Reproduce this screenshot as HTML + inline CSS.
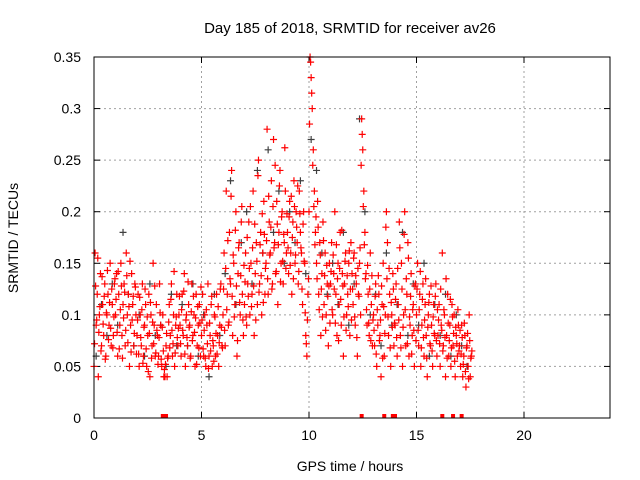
<!DOCTYPE html>
<html><head><meta charset="utf-8"><style>
body{margin:0;background:#fff}
svg{display:block;font-family:"Liberation Sans",sans-serif}
</style></head><body>
<svg id="chart" width="640" height="480">
<text x="350" y="33" font-size="15" text-anchor="middle">Day 185 of 2018, SRMTID for receiver av26</text>
<text x="18" y="238" font-size="14" text-anchor="middle" transform="rotate(-90 18 238)">SRMTID / TECUs</text>
<text x="350" y="471" font-size="14" text-anchor="middle">GPS time / hours</text>
<g id="grid"></g><g id="ticks"></g><g id="marks"></g>
<rect x="94" y="57" width="516" height="361" fill="none" stroke="#000" stroke-width="1"/>
</svg>
<script>
const xTicks=[0,5,10,15,20];
const yTicks=[0,0.05,0.1,0.15,0.2,0.25,0.3,0.35];
const yTickLabels=["0","0.05","0.1","0.15","0.2","0.25","0.3","0.35"];
const hours=[0,1,2,3,4,5,6,7,8,9,10,11,12,13,14,15,16,17];
const redVals=[
[0.05,0.16,0.09,0.12,0.04,0.1,0.14,0.07,0.11,0.08,0.13,0.06,0.1,0.12,0.09,0.15,0.07,0.11,0.08,0.13],
[0.1,0.14,0.06,0.12,0.09,0.15,0.08,0.11,0.13,0.07,0.16,0.1,0.12,0.05,0.09,0.14,0.11,0.07,0.13,0.1],
[0.08,0.12,0.05,0.1,0.07,0.13,0.06,0.09,0.11,0.05,0.08,0.12,0.04,0.1,0.07,0.15,0.09,0.06,0.11,0.08],
[0.06,0.13,0.09,0.05,0.1,0.04,0.04,0.07,0.04,0.06,0.11,0.08,0.13,0.06,0.1,0.05,0.09,0.12,0.07,0.1],
[0.09,0.06,0.12,0.08,0.14,0.05,0.1,0.07,0.11,0.09,0.06,0.13,0.08,0.1,0.05,0.12,0.07,0.09,0.11,0.06],
[0.08,0.12,0.06,0.1,0.05,0.09,0.13,0.06,0.08,0.11,0.05,0.07,0.1,0.06,0.12,0.08,0.05,0.09,0.13,0.07],
[0.1,0.16,0.07,0.22,0.12,0.09,0.18,0.13,0.24,0.08,0.15,0.11,0.2,0.06,0.14,0.17,0.1,0.19,0.12,0.08],
[0.11,0.16,0.09,0.13,0.19,0.1,0.15,0.12,0.22,0.08,0.14,0.17,0.11,0.25,0.13,0.18,0.1,0.16,0.21,0.12],
[0.15,0.28,0.12,0.19,0.16,0.23,0.13,0.27,0.17,0.14,0.21,0.11,0.18,0.24,0.15,0.2,0.13,0.17,0.22,0.16],
[0.18,0.14,0.21,0.16,0.12,0.19,0.23,0.15,0.2,0.17,0.13,0.22,0.18,0.16,0.11,0.2,0.15,0.08,0.06,0.12],
[0.2,0.35,0.33,0.3,0.26,0.22,0.18,0.15,0.21,0.12,0.17,0.08,0.14,0.19,0.11,0.16,0.1,0.13,0.07,0.15],
[0.13,0.17,0.1,0.14,0.2,0.12,0.08,0.15,0.11,0.18,0.09,0.14,0.06,0.13,0.16,0.1,0.12,0.15,0.08,0.17],
[0.14,0.11,0.16,0.09,0.13,0.06,0.12,0.15,0.1,0.29,0.26,0.22,0.18,0.14,0.09,0.12,0.08,0.16,0.11,0.07],
[0.1,0.07,0.13,0.05,0.09,0.12,0.08,0.04,0.11,0.15,0.06,0.1,0.2,0.17,0.08,0.12,0.05,0.1,0.14,0.07],
[0.09,0.13,0.06,0.11,0.19,0.08,0.15,0.05,0.1,0.2,0.07,0.12,0.17,0.06,0.09,0.14,0.08,0.11,0.05,0.13],
[0.1,0.15,0.07,0.12,0.05,0.09,0.13,0.06,0.11,0.08,0.04,0.1,0.12,0.07,0.09,0.05,0.11,0.08,0.13,0.06],
[0.08,0.11,0.05,0.09,0.16,0.07,0.1,0.04,0.08,0.12,0.06,0.09,0.05,0.11,0.07,0.1,0.04,0.08,0.06,0.09],
[0.07,0.05,0.09,0.04,0.06,0.08,0.03,0.07,0.05,0.1,0.04,0.06]
];
const redVals2=[
[0.072,0.128,0.095,0.155,0.083,0.108,0.065,0.137,0.091,0.118,0.057,0.102,0.143,0.076,0.112,0.087,0.125,0.068,0.098,0.135],
[0.115,0.083,0.142,0.067,0.105,0.128,0.058,0.097,0.122,0.085,0.138,0.073,0.108,0.152,0.064,0.095,0.118,0.082,0.127,0.062],
[0.095,0.062,0.117,0.078,0.105,0.053,0.088,0.125,0.067,0.098,0.045,0.082,0.112,0.058,0.093,0.072,0.128,0.063,0.085,0.052],
[0.078,0.102,0.057,0.088,0.065,0.047,0.052,0.082,0.058,0.093,0.068,0.115,0.085,0.072,0.142,0.063,0.098,0.078,0.087,0.118],
[0.072,0.105,0.085,0.123,0.062,0.095,0.078,0.132,0.088,0.058,0.103,0.075,0.118,0.083,0.097,0.052,0.108,0.068,0.092,0.127],
[0.095,0.067,0.085,0.058,0.105,0.072,0.048,0.092,0.065,0.118,0.075,0.055,0.098,0.082,0.062,0.108,0.073,0.125,0.088,0.068],
[0.125,0.085,0.145,0.105,0.172,0.093,0.135,0.215,0.118,0.158,0.098,0.182,0.128,0.075,0.165,0.112,0.138,0.205,0.095,0.148],
[0.132,0.098,0.175,0.118,0.145,0.205,0.108,0.165,0.128,0.188,0.095,0.152,0.235,0.122,0.168,0.138,0.198,0.112,0.178,0.145],
[0.172,0.135,0.215,0.158,0.185,0.125,0.205,0.165,0.245,0.142,0.188,0.168,0.225,0.132,0.195,0.152,0.178,0.262,0.145,0.198],
[0.165,0.195,0.148,0.215,0.175,0.135,0.205,0.158,0.185,0.225,0.142,0.198,0.165,0.125,0.188,0.152,0.102,0.072,0.095,0.135],
[0.285,0.345,0.315,0.245,0.205,0.168,0.195,0.135,0.185,0.105,0.158,0.125,0.098,0.172,0.138,0.085,0.148,0.118,0.128,0.092],
[0.142,0.105,0.158,0.125,0.092,0.168,0.135,0.075,0.145,0.115,0.182,0.128,0.098,0.152,0.085,0.138,0.108,0.162,0.125,0.095],
[0.125,0.155,0.098,0.138,0.078,0.145,0.118,0.165,0.245,0.275,0.205,0.168,0.135,0.105,0.148,0.092,0.125,0.075,0.138,0.095],
[0.085,0.118,0.062,0.105,0.138,0.075,0.095,0.128,0.058,0.108,0.082,0.185,0.135,0.098,0.145,0.068,0.112,0.088,0.125,0.092],
[0.115,0.078,0.145,0.095,0.165,0.068,0.125,0.088,0.178,0.105,0.135,0.072,0.155,0.098,0.118,0.062,0.105,0.085,0.128,0.075],
[0.125,0.085,0.105,0.142,0.068,0.115,0.078,0.095,0.135,0.058,0.088,0.112,0.072,0.128,0.065,0.098,0.082,0.118,0.075,0.105],
[0.095,0.072,0.125,0.085,0.065,0.105,0.078,0.135,0.058,0.092,0.075,0.115,0.068,0.098,0.082,0.055,0.088,0.072,0.105,0.065],
[0.085,0.062,0.078,0.052,0.092,0.045,0.068,0.082,0.038,0.075,0.058,0.065]
];
const grayVals=[
[0.06,0.11,0.08,0.13],[0.09,0.18,0.12,0.07],[0.1,0.06,0.13,0.08],[0.09,0.05,0.12,0.07],
[0.11,0.07,0.13,0.06],[0.1,0.04,0.12,0.08],[0.14,0.23,0.11,0.17],[0.2,0.13,0.24,0.16],
[0.26,0.18,0.22,0.15],[0.2,0.17,0.23,0.14],[0.27,0.24,0.16,0.12],[0.15,0.11,0.18,0.09],
[0.13,0.29,0.2,0.1],[0.12,0.07,0.16,0.09],[0.11,0.18,0.08,0.13],[0.09,0.15,0.06,0.11],
[0.08,0.12,0.06,0.1],[0.07,0.05]
];
const zeroMarkTimes=[3.2,3.35,12.45,13.5,13.9,14.0,16.2,16.7,17.1];
const X0=94,X1=610,Y0=418,Y1=57,XMAX=24,YMAX=0.35;
const sx=t=>X0+(X1-X0)*t/XMAX, sy=v=>Y0-(Y0-Y1)*v/YMAX;
const NS="http://www.w3.org/2000/svg";
const grid=document.getElementById('grid'),ticks=document.getElementById('ticks'),marks=document.getElementById('marks');
function mk(tag,attrs,parent){const e=document.createElementNS(NS,tag);for(const k in attrs)e.setAttribute(k,attrs[k]);parent.appendChild(e);return e;}
xTicks.forEach(t=>{
 const x=sx(t);
 if(t>0){const g=mk('line',{x1:x,x2:x,y1:Y0,y2:Y1,stroke:'#a0a0a0','stroke-dasharray':'2,3'},grid);
 
 }
 mk('line',{x1:x,x2:x,y1:Y0,y2:Y0-6,stroke:'#000'},ticks);
 mk('line',{x1:x,x2:x,y1:Y1,y2:Y1+6,stroke:'#000'},ticks);
 const l=mk('text',{x:x,y:Y0+22,'font-size':14,'text-anchor':'middle'},ticks);l.textContent=t;
 
 
});
yTicks.forEach((v,i)=>{
 const y=sy(v);
 if(v>0&&v<YMAX){const g=mk('line',{x1:X0,x2:X1,y1:y,y2:y,stroke:'#a0a0a0','stroke-dasharray':'2,3'},grid);
 
 }
 mk('line',{x1:X0,x2:X0+6,y1:y,y2:y,stroke:'#000'},ticks);
 mk('line',{x1:X1,x2:X1-6,y1:y,y2:y,stroke:'#000'},ticks);
 const l=mk('text',{x:X0-13,y:y+5,'font-size':14,'text-anchor':'end'},ticks);l.textContent=yTickLabels[i];
 
 
});
function plus(t,v,col,name){
 const x=sx(t),y=sy(v);
 const p=mk('path',{d:`M${x-3.5},${y}h7M${x},${y-3.5}v7`,stroke:col,'stroke-width':1.2,fill:'none'},marks);
 
 
}
grayVals.forEach((arr,h)=>arr.forEach((v,i)=>plus(hours[h]+(i+0.4)/arr.length*(h===17?0.5:1),v,'#404040','gray-point')));
redVals.forEach((arr,h)=>arr.forEach((v,i)=>plus(hours[h]+i*0.05,v,'#ff0000','red-point')));
redVals2.forEach((arr,h)=>arr.forEach((v,i)=>plus(hours[h]+i*0.05+0.025,v,'#ff0000','red-point')));
zeroMarkTimes.forEach(t=>{
 const r=mk('rect',{x:sx(t)-2,y:Y0-4,width:4,height:4,fill:'#ff0000'},marks);
 
 
});
</script>
</body></html>
